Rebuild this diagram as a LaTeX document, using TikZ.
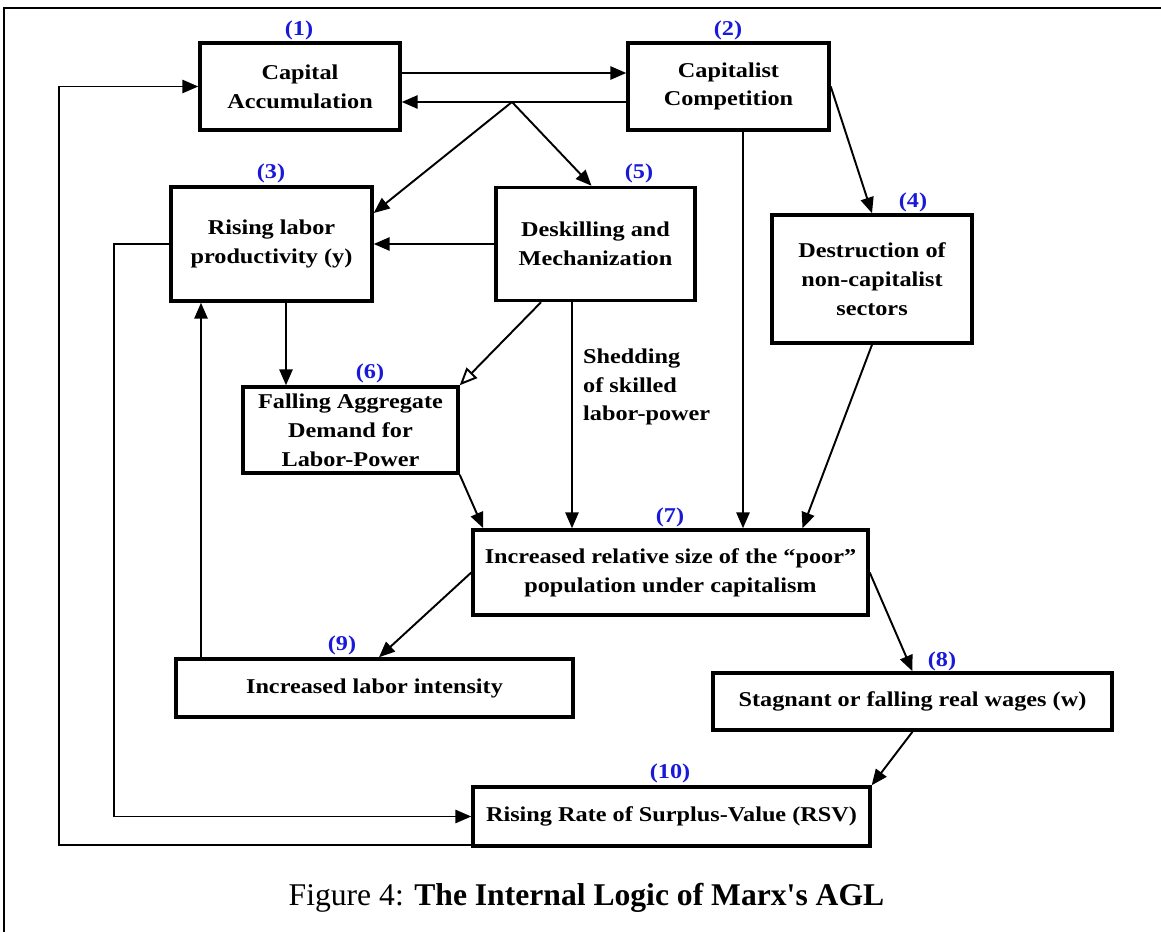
\documentclass[tikz,border=0pt]{standalone}
\usepackage{fontspec}
\setmainfont{Liberation Serif}
\newfontfamily\boxfont[FakeStretch=1.15]{Liberation Serif}
\usepackage{xcolor}
\usetikzlibrary{arrows.meta,calc}
\definecolor{numblue}{RGB}{25,25,215}

\begin{document}
\begin{tikzpicture}[
  x=0.02cm, y=-0.02cm,
  every node/.style={font=\boxfont\bfseries\fontsize{12pt}{16.4pt}\selectfont},
  box/.style={draw, line width=2pt, align=center, inner sep=2pt},
  numlabel/.style={text=numblue, inner sep=1pt, font=\boxfont\bfseries\fontsize{12pt}{14pt}\selectfont},
  arr/.style={line width=1.1pt, -{Triangle[length=9pt,width=7.5pt]}},
  openarr/.style={line width=1.1pt, -{Triangle[open,length=10pt,width=8.5pt]}},
]
\useasboundingbox (0,0) rectangle (1161,932);

% Outer frame (only top and left edges are visible)
\draw[line width=1.5pt] (4,940) -- (4,8) -- (1170,8);

%%% Boxes %%%
\node[box, minimum width=4cm,    minimum height=1.74cm] (b1)  at (300,86.5)   {Capital\\Accumulation};
\node[box, minimum width=4.02cm, minimum height=1.74cm] (b2)  at (728.5,86.5) {Capitalist\\Competition};
\node[box, minimum width=4.02cm, minimum height=2.28cm] (b3)  at (271.5,244)  {Rising labor\\productivity (y)};
\node[box, minimum width=3.98cm, minimum height=2.26cm] (b5)  at (595.5,244)  {Deskilling and\\Mechanization};
\node[box, minimum width=4cm,    minimum height=2.56cm] (b4)  at (872,279)    {Destruction of\\non-capitalist\\sectors};
\node[box, minimum width=4.3cm,  minimum height=1.72cm] (b6)  at (350.5,430)  {Falling Aggregate\\Demand for\\Labor-Power};
\node[box, minimum width=7.9cm,  minimum height=1.7cm]  (b7)  at (670.5,572.5) {Increased relative size of the “poor”\\population under capitalism};
\node[box, minimum width=7.94cm, minimum height=1.16cm] (b9)  at (374.5,688)  {Increased labor intensity};
\node[box, minimum width=7.98cm, minimum height=1.14cm] (b8)  at (912.5,701.5) {Stagnant or falling real wages (w)};
\node[box, minimum width=7.94cm, minimum height=1.18cm] (b10) at (671.5,816.5) {Rising Rate of Surplus-Value (RSV)};

%%% Number labels %%%
\node[numlabel] (n1)  at (299,30)  {(1)};
\node[numlabel] (n2)  at (728,30)  {(2)};
\node[numlabel] (n3)  at (271,173) {(3)};
\node[numlabel] (n5)  at (639,173) {(5)};
\node[numlabel] (n4)  at (913,202) {(4)};
\node[numlabel] (n6)  at (370,373) {(6)};
\node[numlabel] (n7)  at (670,517) {(7)};
\node[numlabel] (n9)  at (342,645) {(9)};
\node[numlabel] (n8)  at (942,661) {(8)};
\node[numlabel] (n10) at (670,773) {(10)};

%%% Helper coordinates %%%
\coordinate (split) at (512,102);
\coordinate (c2s) at ($(b2.south)+(14.5,0)$);
\coordinate (c3s) at ($(b3.south)+(14.5,0)$);
\coordinate (c5s) at ($(b5.south)+(-23.5,0)$);
\coordinate (c9n) at ($(b9.north)+(-173.5,0)$);
\coordinate (c10) at ($(b10.south west)+(0,-3)$);
\coordinate (loopA) at (114,0);
\coordinate (loopB) at (59,0);

%%% Connectors %%%
% accumulation <-> competition
\draw[arr] ($(b1.east)+(0,-13.5)$) -- ($(b2.west)+(0,-13.5)$);
\draw[arr] ($(b2.west)+(0,15.5)$) -- ($(b1.east)+(0,15.5)$);
\draw[arr] (split) -- ($(b3.east)+(0,-31)$);
\draw[arr] (split) -- ($(b5.north)+(-4,0)$);
% competition -> destruction, poor population
\draw[arr] (b2.east) -- (b4.north);
\draw[arr] (c2s) -- (c2s |- b7.north);
\draw[arr] (b4.south) -- ($(b7.north)+(132,0)$);
% deskilling
\draw[arr] (b5.west) -- (b3.east);
\draw[openarr] ($(b5.south)+(-54.5,0)$) -- (b6.north east);
\draw[arr] (c5s) -- (c5s |- b7.north);
\node[anchor=west, align=left] (shed) at (577,387) {Shedding\\of skilled\\labor-power};
% productivity -> demand -> poor population
\draw[arr] (c3s) -- (c3s |- b6.north);
\draw[arr] (b6.south east) -- ($(b7.north west)+(12,0)$);
% poor population -> intensity, wages
\draw[arr] (b7.west) -- ($(b9.north)+(4.5,0)$);
\draw[arr] (c9n) -- (c9n |- b3.south);
\draw[arr] (b7.east) -- (b8.north);
\draw[arr] (b8.south) -- (b10.north east);
% feedback loops
\draw[arr] (b3.west) -- (b3.west -| loopA) |- (b10.west);
\draw[arr] (c10) -- (c10 -| loopB) |- (b1.west);

% Caption
\node[font=\fontsize{18pt}{22pt}\selectfont] (caption) at (586.5,898)
  {Figure 4: \textbf{The Internal Logic of Marx\textquotesingle s AGL}};
\end{tikzpicture}
\end{document}
